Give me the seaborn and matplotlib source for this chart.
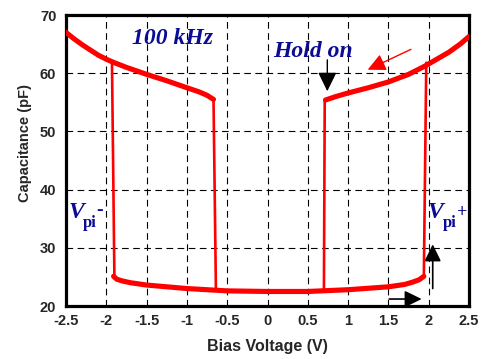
import numpy as np
import pandas as pd
import matplotlib
matplotlib.use("Agg")
import matplotlib.pyplot as plt
import seaborn as sns

# ---- data ----
upper_left_v = [-2.5, -2.4, -2.3, -2.2, -2.1, -2.0, -1.9, -1.75, -1.5, -1.25, -1.0, -0.85, -0.75, -0.67]
upper_left_c = [67.0, 65.9, 64.9, 64.0, 63.1, 62.4, 61.8, 61.0, 59.8, 58.7, 57.5, 56.8, 56.2, 55.5]

upper_right_v = [0.72, 0.85, 1.0, 1.25, 1.5, 1.75, 1.95, 2.1, 2.25, 2.4, 2.5]
upper_right_c = [55.4, 56.0, 56.6, 57.5, 58.5, 59.8, 61.2, 62.4, 63.6, 65.1, 66.3]

bottom_v = [-1.91, -1.87, -1.8, -1.7, -1.5, -1.25, -1.0, -0.5, 0.0, 0.5, 1.0, 1.5, 1.7, 1.8, 1.88, 1.94]
bottom_c = [25.1, 24.6, 24.3, 24.0, 23.6, 23.3, 23.0, 22.6, 22.5, 22.5, 22.8, 23.3, 23.7, 24.1, 24.5, 25.1]

switch_v_low = [-1.90, -0.64, 0.70, 1.94]
switch_v_high = [-1.93, -0.67, 0.71, 1.97]
switch_c_low = [25.1, 22.6, 22.6, 25.1]
switch_c_high = [61.9, 55.5, 55.4, 61.8]

x_ticks = [-2.5, -2, -1.5, -1, -0.5, 0, 0.5, 1, 1.5, 2, 2.5]
x_tick_labels = ["-2.5", "-2", "-1.5", "-1", "-0.5", "0", "0.5", "1", "1.5", "2", "2.5"]
y_ticks = [20, 30, 40, 50, 60, 70]

RED = "#ff0000"
NAVY = "#0b0b94"

sns.set_style("white")
plt.rcParams["font.family"] = ["Liberation Sans", "DejaVu Sans"]

fig = plt.figure(figsize=(4.82, 3.59), dpi=100)
ax = fig.add_axes([0.137, 0.1476, 0.836, 0.8106])

# thick branches
for xs, cs in [(upper_left_v, upper_left_c), (upper_right_v, upper_right_c), (bottom_v, bottom_c)]:
    df = pd.DataFrame({"V": xs, "C": cs})
    sns.lineplot(data=df, x="V", y="C", ax=ax, sort=False, estimator=None,
                 color=RED, lw=3.7, solid_capstyle="round", solid_joinstyle="round", zorder=4)

# vertical switching lines
for xl, xh, cl, ch in zip(switch_v_low, switch_v_high, switch_c_low, switch_c_high):
    df = pd.DataFrame({"V": [xl, xh], "C": [cl, ch]})
    sns.lineplot(data=df, x="V", y="C", ax=ax, sort=False, estimator=None,
                 color=RED, lw=1.9, zorder=3)

ax.set_xlim(-2.5, 2.5)
ax.set_ylim(20, 70)
ax.set_xticks(x_ticks)
ax.set_xticklabels(x_tick_labels)
ax.set_yticks(y_ticks)
ax.grid(True, color="black", lw=0.8, ls=(0, (6, 4)))
ax.set_axisbelow(True)

for s in ax.spines.values():
    s.set_visible(True)
    s.set_color("black")
    s.set_linewidth(2.3)
ax.tick_params(axis="both", direction="out", length=4, width=1.5, color="black",
               labelsize=10.5)
ax.tick_params(axis="x", pad=1.5)
ax.tick_params(axis="y", pad=3)
for lab in ax.get_xticklabels() + ax.get_yticklabels():
    lab.set_fontweight("bold")

ax.set_xlabel("Bias Voltage (V)", fontsize=11.5, fontweight="bold")
ax.set_ylabel("Capacitance (pF)", fontsize=10.5, fontweight="bold")
ax.xaxis.set_label_coords(0.5, -0.115)
ax.yaxis.set_label_coords(-0.085, 0.56)

serif = ["Liberation Serif", "DejaVu Serif"]
ax.text(-1.18, 66.0, "100 kHz", family=serif, fontsize=17, fontweight="bold",
        fontstyle="italic", color=NAVY, ha="center", va="center", zorder=6)
ax.text(0.57, 63.7, "Hold on", family=serif, fontsize=17, fontweight="bold",
        fontstyle="italic", color=NAVY, ha="center", va="center", zorder=6)

# V_pi^- and V_pi^+
ax.text(-2.376, 36.0, "V", family=serif, fontsize=17, fontweight="bold",
        fontstyle="italic", color=NAVY, ha="center", va="center", zorder=6)
ax.text(-2.29, 34.3, "pi", family=serif, fontsize=12, fontweight="bold",
        color=NAVY, ha="left", va="center", zorder=6)
ax.text(-2.12, 36.4, "-", family=serif, fontsize=14, fontweight="bold",
        color=NAVY, ha="left", va="center", zorder=6)
ax.text(2.085, 36.0, "V", family=serif, fontsize=17, fontweight="bold",
        fontstyle="italic", color=NAVY, ha="center", va="center", zorder=6)
ax.text(2.18, 34.3, "pi", family=serif, fontsize=12, fontweight="bold",
        color=NAVY, ha="left", va="center", zorder=6)
ax.text(2.42, 36.0, "+", family=serif, fontsize=13, fontweight="bold",
        color=NAVY, ha="center", va="center", zorder=6)

# arrows
ax.annotate("", xy=(0.742, 56.9), xytext=(0.742, 62.3),
            arrowprops=dict(arrowstyle="-|>,head_length=0.45,head_width=0.22", color="black", lw=1.0,
                            mutation_scale=26, shrinkA=0, shrinkB=0), zorder=7)
ax.annotate("", xy=(1.243, 60.6), xytext=(1.78, 64.1),
            arrowprops=dict(arrowstyle="-|>,head_length=0.45,head_width=0.22", color=RED, lw=1.0,
                            mutation_scale=24, shrinkA=0, shrinkB=0), zorder=7)
ax.annotate("", xy=(1.913, 21.2), xytext=(1.511, 21.2),
            arrowprops=dict(arrowstyle="-|>,head_length=0.45,head_width=0.22", color="black", lw=1.2,
                            mutation_scale=23, shrinkA=0, shrinkB=0), zorder=7)
ax.annotate("", xy=(2.05, 30.6), xytext=(2.05, 23.0),
            arrowprops=dict(arrowstyle="-|>,head_length=0.45,head_width=0.22", color="black", lw=1.2,
                            mutation_scale=23, shrinkA=0, shrinkB=0), zorder=7)

fig.savefig("out.png", dpi=100)
